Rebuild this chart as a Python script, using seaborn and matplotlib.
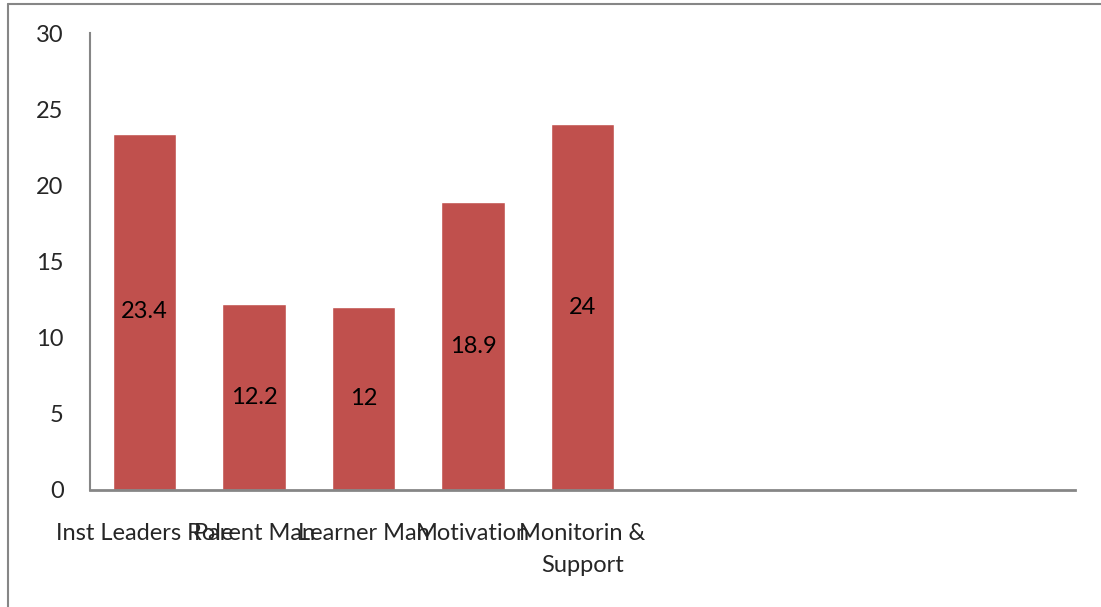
import matplotlib
matplotlib.use("Agg")
import matplotlib.pyplot as plt
from matplotlib.lines import Line2D
import seaborn as sns
import pandas as pd

categories = ["Inst Leaders Role", "Parent Man", "Learner Man", "Motivation", "Monitorin &\nSupport"]
values = [23.4, 12.2, 12.0, 18.9, 24.0]
value_labels = ["23.4", "12.2", "12", "18.9", "24"]

df = pd.DataFrame({"cat": categories, "val": values})

sns.set_style("white")
plt.rcParams["font.family"] = ["Lato", "DejaVu Sans"]

fig = plt.figure(figsize=(11.01, 6.07), dpi=100)
ax = fig.add_axes([90 / 1101, 1 - 490 / 607, (1075 - 90) / 1101, (490 - 33) / 607])

sns.barplot(data=df, x="cat", y="val", order=categories, color="#C0504D",
            saturation=1, width=0.58, ax=ax)

for i, (v, lab) in enumerate(zip(values, value_labels)):
    ax.text(i, v / 2, lab, ha="center", va="center", fontsize=17, color="black")

ax.set_xlim(-0.5, 8.5)
ax.set_ylim(0, 30)
ax.set_yticks([0, 5, 10, 15, 20, 25, 30])
ax.set_xlabel("")
ax.set_ylabel("")
ax.tick_params(axis="y", length=0, pad=19, labelsize=17)
ax.tick_params(axis="x", length=0, pad=24, labelsize=17)
for lab in ax.get_xticklabels():
    lab.set_linespacing(1.6)

for s in ["top", "right"]:
    ax.spines[s].set_visible(False)
ax.spines["left"].set_color("#868686")
ax.spines["bottom"].set_color("#868686")
ax.spines["left"].set_linewidth(1.5)
ax.spines["bottom"].set_linewidth(2)

# outer chart frame (only left/top visible in the crop)
x0 = 8 / 1101
y0 = 1 - 4 / 607
fig.add_artist(Line2D([x0, x0], [0, y0], color="#868686", lw=1.5))
fig.add_artist(Line2D([x0, 1], [y0, y0], color="#868686", lw=1.5))

fig.savefig("out.png", dpi=100)
